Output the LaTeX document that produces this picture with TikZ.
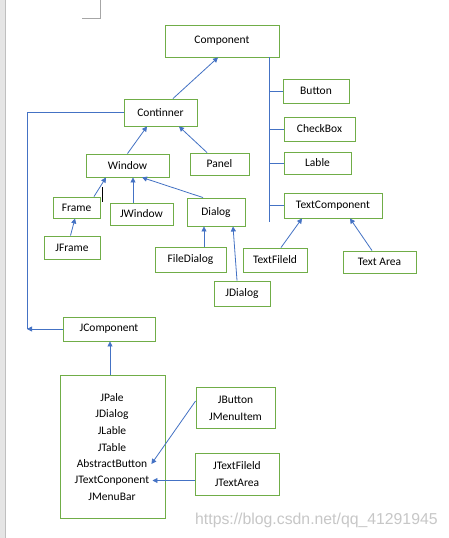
\documentclass[tikz,border=0pt]{standalone}
\usepackage{fontspec}
\setmainfont{Carlito}
\newfontfamily\wmfont{Liberation Sans}
\usetikzlibrary{arrows.meta}
\definecolor{boxgreen}{HTML}{70AD47}
\definecolor{lineblue}{HTML}{4472C4}
\begin{document}
\begin{tikzpicture}[x=1pt,y=-1pt,
  box/.style={draw=boxgreen,line width=0.9pt,fill=white,inner sep=0pt,font=\fontsize{11.5}{13}\selectfont},
  lbl/.style={inner sep=0pt,font=\fontsize{11.5}{13}\selectfont},
  conn/.style={draw=lineblue,line width=0.8pt},
  arr/.style={conn,-{Triangle[length=5pt,width=5pt]}}]
\useasboundingbox (0,0) rectangle (448,538);
\fill[white] (0,0) rectangle (448,538);
% page edge and corner mark
\fill[black!10] (0,0) rectangle (5,538);
\draw[black!25,line width=0.6pt] (5.5,0) -- (5.5,538);
\draw[black!35,line width=0.7pt] (100,0) -- (100,18) -- (82,18);
% boxes
\node[box,minimum width=114,minimum height=32] (component) at (222,41) {Component};
\node[box,minimum width=66,minimum height=24] (button) at (316,91) {Button};
\node[box,minimum width=71,minimum height=24] (checkbox) at (319.5,129) {CheckBox};
\node[box,minimum width=67,minimum height=22] (lable) at (317.5,163) {Lable};
\node[box,minimum width=73,minimum height=27] (continner) at (160.5,112.5) {Continner};
\node[box,minimum width=83,minimum height=23] (window) at (127.5,165.5) {Window};
\node[box,minimum width=59,minimum height=22] (panel) at (219.5,164) {Panel};
\node[box,minimum width=47,minimum height=21] (frame) at (76.5,207.5) {Frame};
\node[box,minimum width=63,minimum height=22] (jwindow) at (141.5,214) {JWindow};
\node[box,minimum width=58,minimum height=28] (dialog) at (216,212) {Dialog};
\node[box,minimum width=98,minimum height=25] (textcomponent) at (333,205.5) {TextComponent};
\node[box,minimum width=56,minimum height=23] (jframe) at (72,247.5) {JFrame};
\node[box,minimum width=71,minimum height=25] (filedialog) at (190.5,259.5) {FileDialog};
\node[box,minimum width=64,minimum height=24] (textfileld) at (275,260) {TextFileld};
\node[box,minimum width=73,minimum height=22] (textarea) at (379.5,262) {Text Area};
\node[box,minimum width=56,minimum height=25] (jdialog) at (242,293.5) {JDialog};
\node[box,minimum width=92,minimum height=24] (jcomponent) at (109,329) {JComponent};
\node[box,minimum width=105,minimum height=143] (big) at (112.5,446.5) {};
\node[box,minimum width=79,minimum height=41,align=center,font=\fontsize{11.5}{17}\selectfont] (jbuttonbox) at (235.5,408) {JButton\\JMenuItem};
\node[box,minimum width=84,minimum height=42,align=center,font=\fontsize{11.5}{17}\selectfont] (jtextbox) at (237,474) {JTextFileld\\JTextArea};
% texts in big box
\node[lbl] (jpale) at (112,398) {JPale};
\node[lbl] (jdialog2) at (112,414.5) {JDialog};
\node[lbl] (jlable) at (112,431) {JLable};
\node[lbl] (jtable) at (112,447.5) {JTable};
\node[lbl] (ab) at (112,464) {AbstractButton};
\node[lbl] (jtc) at (112,480.5) {JTextConponent};
\node[lbl] (jmenubar) at (112,497) {JMenuBar};
% arrows
\draw[arr] ([xshift=12.5]continner.north) -- ([xshift=-4]component.south);
\draw[arr] (window.north) -- ([xshift=-13.5]continner.south);
\draw[arr] ([xshift=-12.5]panel.north) -- ([xshift=18.5]continner.south);
\draw[arr] ([xshift=17.5]frame.north) -- ([xshift=-21.5]window.south);
\draw[arr] ([xshift=-8.5]jwindow.north) -- ([xshift=5.5]window.south);
\draw[arr] ([xshift=-13]dialog.north) -- ([xshift=14.5]window.south);
\draw[arr] ([xshift=-1.5]jframe.north) -- ([xshift=-1.5]frame.south);
\draw[arr] ([xshift=13.5]filedialog.north) -- ([xshift=-12]dialog.south);
\draw[arr] ([xshift=-5]jdialog.north) -- ([xshift=17]dialog.south);
\draw[arr] ([xshift=6]textfileld.north) -- ([xshift=-31]textcomponent.south);
\draw[arr] ([xshift=-7.5]textarea.north) -- ([xshift=17]textcomponent.south);
% trunk from Component
\coordinate (trunktop) at ([xshift=47]component.south);
\coordinate (trunkend) at (269,222);
\draw[conn] (trunktop) -- (trunkend);
\draw[conn] (button.west -| trunktop) -- (button.west);
\draw[conn] (checkbox.west -| trunktop) -- (checkbox.west);
\draw[conn] (lable.west -| trunktop) -- (lable.west);
\draw[conn] (textcomponent.west -| trunktop) -- (textcomponent.west);
% left line Continner - JComponent
\coordinate (lx) at (27,0);
\draw[conn] (continner.west) -- (continner.west -| lx) -- (jcomponent.west -| lx);
\draw[arr] (jcomponent.west) -- (jcomponent.west -| lx);
% lower part
\draw[arr] ([xshift=-2.5]big.north) -- ([xshift=1]jcomponent.south);
\draw[arr] ([yshift=7]jbuttonbox.west) -- ([xshift=4]ab.east);
\draw[arr] (jtextbox.west |- jtc.east) -- ([xshift=3]jtc.east);
% caret
\draw[black,line width=0.8pt] (102,187) -- (102,202);
% watermark
\node[anchor=west,inner sep=0pt,text=black!22,font=\wmfont\fontsize{15.8}{18}\selectfont] (wm) at (195,520) {https://blog.csdn.net/qq\_41291945};
\end{tikzpicture}
\end{document}
